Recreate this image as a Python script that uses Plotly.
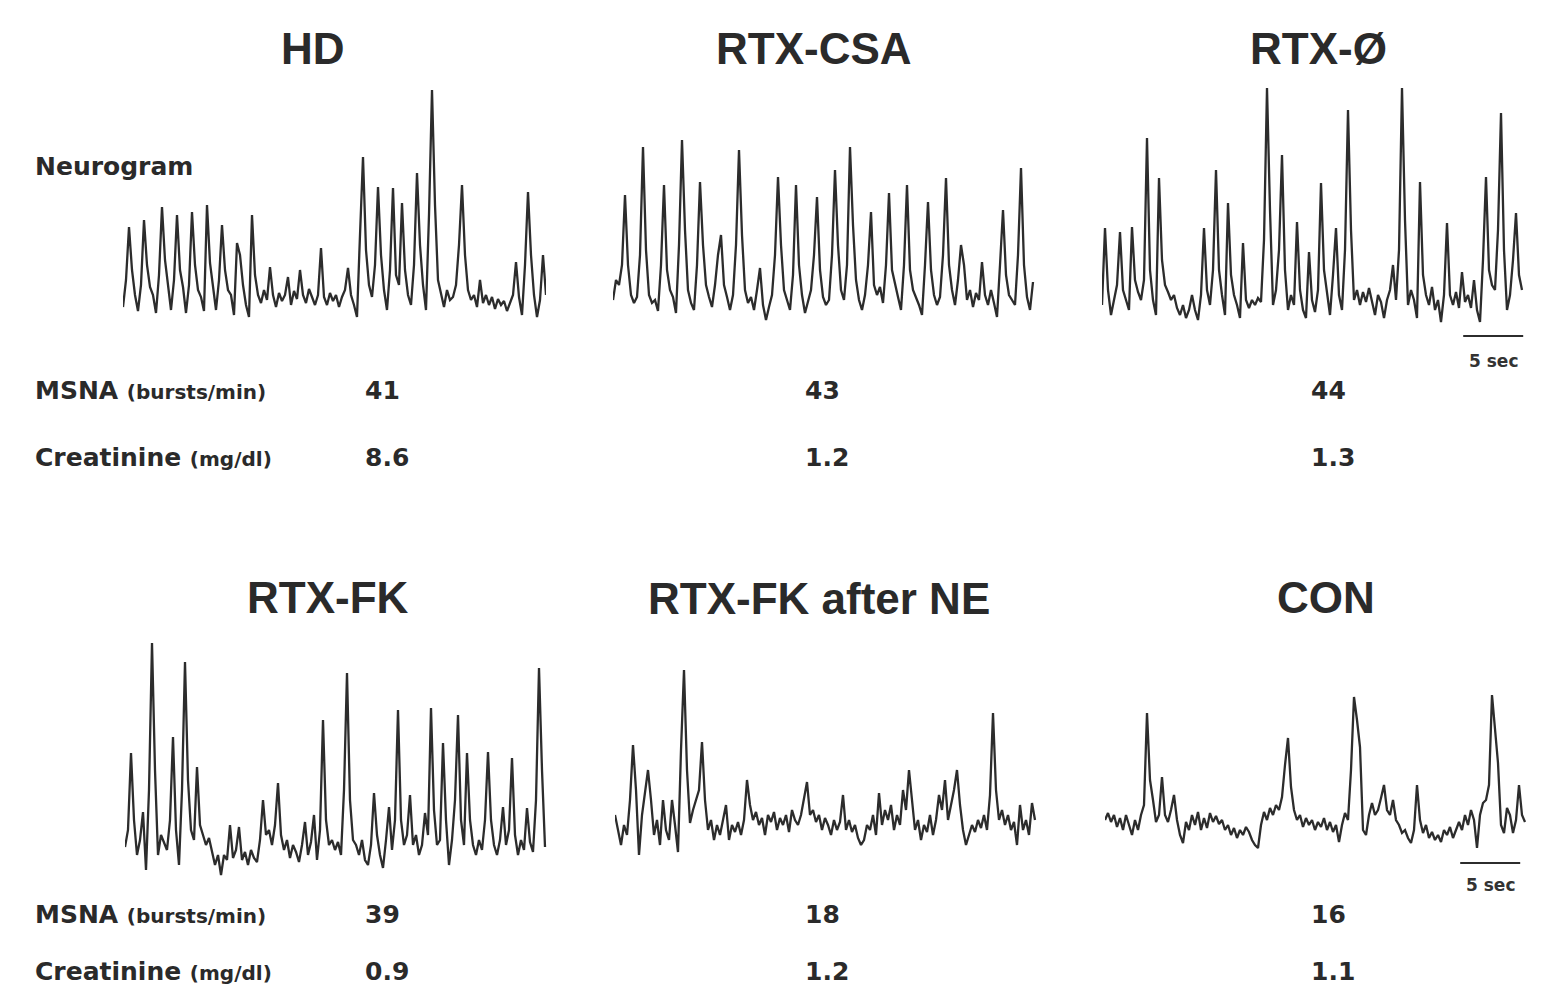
import plotly.graph_objects as go

# ---------------- data ----------------
DT = 0.25  # seconds between neurogram samples

titles = ["HD", "RTX-CSA", "RTX-Ø", "RTX-FK", "RTX-FK after NE", "CON"]
msna_values = ["41", "43", "44", "39", "18", "16"]
creatinine_values = ["8.6", "1.2", "1.3", "0.9", "1.2", "1.1"]

# neurogram amplitude (arbitrary units), one sample every DT seconds
hd = [18, 45, 98, 55, 30, 14, 40, 105, 60, 38,
      30, 12, 50, 118, 65, 40, 15, 45, 110, 55,
      38, 12, 40, 113, 60, 35, 28, 14, 120, 62,
      38, 15, 45, 100, 55, 35, 30, 10, 82, 70,
      40, 20, 8, 110, 50, 30, 22, 35, 25, 58,
      30, 18, 32, 24, 30, 48, 20, 34, 26, 55,
      30, 22, 36, 28, 20, 30, 77, 28, 20, 32,
      24, 30, 18, 28, 35, 57, 30, 20, 8, 90,
      168, 75, 40, 28, 60, 138, 70, 35, 15, 55,
      137, 50, 40, 122, 55, 30, 20, 60, 152, 80,
      40, 15, 110, 235, 120, 45, 30, 18, 35, 25,
      28, 40, 80, 140, 70, 35, 25, 30, 18, 45,
      22, 30, 20, 28, 16, 26, 20, 24, 14, 22,
      30, 63, 28, 10, 60, 133, 70, 30, 8, 25,
      70, 30]

rtx_csa = [25, 45, 40, 60, 130, 60, 30, 22, 28, 70,
           178, 75, 30, 22, 25, 14, 60, 140, 55, 35,
           28, 12, 80, 185, 95, 35, 22, 15, 60, 143,
           80, 40, 28, 18, 40, 70, 90, 40, 28, 15,
           30, 80, 175, 90, 35, 22, 28, 15, 35, 57,
           20, 5, 18, 30, 70, 148, 80, 35, 25, 15,
           50, 140, 60, 30, 12, 25, 35, 70, 128, 55,
           28, 20, 25, 70, 155, 80, 35, 25, 60, 178,
           100, 45, 25, 15, 30, 60, 113, 40, 30, 38,
           22, 60, 132, 55, 40, 28, 15, 60, 140, 55,
           35, 28, 20, 10, 60, 123, 55, 30, 20, 28,
           70, 147, 60, 35, 20, 45, 80, 60, 25, 35,
           18, 32, 25, 63, 30, 20, 35, 22, 8, 60,
           115, 50, 30, 25, 20, 70, 157, 60, 28, 15,
           43]

rtx_none = [25, 102, 40, 15, 30, 45, 98, 40, 30, 20,
            103, 50, 38, 30, 50, 192, 60, 30, 15, 152,
            70, 45, 38, 30, 35, 22, 15, 25, 12, 20,
            35, 20, 10, 35, 102, 40, 25, 60, 160, 60,
            35, 15, 127, 55, 35, 25, 12, 87, 30, 22,
            30, 25, 32, 28, 90, 242, 120, 25, 40, 80,
            175, 60, 20, 35, 25, 108, 40, 20, 12, 78,
            30, 18, 40, 147, 60, 38, 15, 55, 102, 35,
            20, 80, 220, 100, 30, 40, 25, 38, 28, 42,
            30, 15, 35, 28, 12, 30, 40, 65, 30, 80,
            242, 110, 25, 40, 30, 12, 148, 55, 35, 25,
            43, 20, 30, 8, 35, 107, 35, 25, 38, 22,
            58, 28, 35, 22, 50, 20, 8, 70, 153, 60,
            45, 40, 100, 217, 80, 20, 35, 70, 117, 55,
            40]

rtx_fk = [33, 50, 127, 60, 25, 40, 68, 10, 90, 237,
          110, 25, 45, 38, 30, 60, 143, 50, 15, 90,
          218, 100, 50, 40, 113, 55, 45, 35, 42, 28,
          15, 25, 5, 25, 20, 55, 22, 30, 53, 20,
          28, 15, 30, 22, 18, 40, 80, 45, 50, 35,
          55, 97, 45, 30, 40, 22, 35, 28, 18, 35,
          58, 25, 38, 65, 20, 50, 160, 60, 35, 40,
          30, 38, 25, 90, 207, 80, 40, 35, 25, 40,
          20, 15, 35, 87, 45, 25, 12, 40, 73, 30,
          60, 170, 60, 35, 45, 85, 35, 45, 25, 35,
          67, 45, 172, 70, 35, 40, 137, 60, 15, 40,
          80, 165, 60, 35, 127, 60, 35, 25, 40, 30,
          60, 128, 60, 35, 25, 40, 73, 35, 50, 122,
          45, 25, 40, 30, 72, 38, 28, 80, 212, 110,
          33]

rtx_fk_ne = [45, 30, 15, 35, 25, 60, 115, 70, 5, 45,
             70, 90, 60, 25, 40, 15, 60, 30, 20, 60,
             35, 8, 110, 190, 90, 37, 50, 60, 70, 118,
             60, 30, 40, 20, 35, 25, 40, 55, 20, 35,
             28, 38, 25, 40, 80, 55, 40, 48, 35, 42,
             25, 45, 38, 48, 30, 42, 35, 45, 28, 50,
             40, 35, 45, 60, 78, 45, 50, 38, 45, 30,
             42, 35, 25, 40, 30, 38, 65, 30, 40, 28,
             35, 22, 15, 20, 35, 30, 45, 25, 67, 35,
             50, 40, 55, 30, 45, 35, 70, 50, 90, 60,
             30, 40, 20, 35, 28, 45, 25, 40, 65, 50,
             80, 40, 55, 70, 90, 55, 30, 15, 25, 35,
             28, 40, 32, 45, 30, 65, 147, 70, 40, 50,
             35, 45, 30, 38, 15, 55, 30, 40, 25, 57,
             40]

con = [40, 47, 38, 45, 33, 42, 30, 45, 35, 25,
       40, 30, 45, 55, 147, 80, 60, 38, 45, 83,
       45, 38, 50, 65, 40, 25, 17, 38, 30, 45,
       35, 48, 30, 42, 32, 47, 38, 44, 36, 40,
       30, 35, 25, 32, 22, 30, 25, 33, 28, 20,
       15, 12, 35, 48, 40, 52, 45, 55, 50, 63,
       95, 122, 73, 50, 40, 45, 33, 42, 35, 40,
       30, 38, 33, 42, 30, 38, 28, 35, 18, 35,
       47, 40, 90, 163, 140, 113, 30, 25, 45, 57,
       45, 50, 62, 75, 50, 45, 60, 40, 35, 27,
       30, 22, 17, 30, 75, 40, 27, 35, 22, 28,
       20, 25, 18, 30, 25, 33, 22, 30, 38, 30,
       45, 35, 50, 40, 12, 45, 57, 60, 75, 165,
       130, 97, 35, 27, 52, 45, 27, 40, 75, 45,
       38]

neurograms = [hd, rtx_csa, rtx_none, rtx_fk, rtx_fk_ne, con]

SCALE_BAR_SEC = 5
scale_bar_panels = [2, 5]           # panels carrying a "5 sec" bar
scale_bar_start = [30.1, 29.6]      # seconds

# ---------------- layout (pixels in the 1554 x 1005 page) ----------------
W, H = 1554, 1005
PX_PER_SEC = 12.0
T_SPAN = 35.25
Y_LO, Y_HI = -40, 250
panel_left = [123, 613, 1102, 125, 615, 1105]
panel_base = [325, 325, 330, 880, 860, 860]
scale_bar_amp = [-6, -3]
scale_label_amp = [-31, -25]

title_x = [313, 814, 1318, 328, 819, 1326]
title_y = [48, 48, 48, 597, 598, 597]
value_x = [363, 803, 1309]
msna_row_y = [390, 914]
creat_row_y = [457, 971]

INK = "#2c2c2c"
TITLE_FONT = dict(family="Liberation Sans, Arial, sans-serif", size=44, color="#2a2a2a")
LABEL_FONT = dict(family="DejaVu Sans, sans-serif", size=25, color="#2a2a2a")

fig = go.Figure()
layout = dict(width=W, height=H, margin=dict(l=0, r=0, t=0, b=0),
              paper_bgcolor="white", plot_bgcolor="white", showlegend=False)

for k, sig in enumerate(neurograms):
    ax = "" if k == 0 else str(k + 1)
    t = [i * DT for i in range(len(sig))]
    fig.add_trace(go.Scatter(x=t, y=sig, mode="lines",
                             line=dict(color=INK, width=2.3),
                             xaxis="x" + ax, yaxis="y" + ax,
                             hoverinfo="skip"))
    L, B = panel_left[k], panel_base[k]
    x0 = L / W
    x1 = (L + T_SPAN * PX_PER_SEC) / W
    y0 = 1 - (B - Y_LO) / H
    y1 = 1 - (B - Y_HI) / H
    layout["xaxis" + ax] = dict(domain=[x0, x1], range=[0, T_SPAN], visible=False,
                                anchor="y" + ax, fixedrange=True)
    layout["yaxis" + ax] = dict(domain=[y0, y1], range=[Y_LO, Y_HI], visible=False,
                                anchor="x" + ax, fixedrange=True)

# scale bars (5 s) drawn on the time axes
for j, k in enumerate(scale_bar_panels):
    ax = str(k + 1)
    s = scale_bar_start[j]
    fig.add_trace(go.Scatter(x=[s, s + SCALE_BAR_SEC], y=[scale_bar_amp[j]] * 2,
                             mode="lines", line=dict(color=INK, width=2.2),
                             xaxis="x" + ax, yaxis="y" + ax, hoverinfo="skip"))
    fig.add_annotation(x=s + SCALE_BAR_SEC / 2, y=scale_label_amp[j],
                       xref="x" + ax, yref="y" + ax, showarrow=False,
                       text="<b>5 sec</b>",
                       font=dict(family="DejaVu Sans, sans-serif", size=17, color="#333"))

fig.update_layout(**layout)

def px(x, y):
    return x / W, 1 - y / H

# titles
for k, ttl in enumerate(titles):
    xx, yy = px(title_x[k], title_y[k])
    fig.add_annotation(x=xx, y=yy, xref="paper", yref="paper", showarrow=False,
                       text="<b>" + ttl + "</b>", font=TITLE_FONT,
                       xanchor="center", yanchor="middle")

# row labels
xx, yy = px(33, 167)
fig.add_annotation(x=xx, y=yy, xref="paper", yref="paper", showarrow=False,
                   text="<b>Neurogram</b>", font=LABEL_FONT,
                   xanchor="left", yanchor="middle")
for r in range(2):
    xx, yy = px(33, msna_row_y[r])
    fig.add_annotation(x=xx, y=yy, xref="paper", yref="paper", showarrow=False,
                       text="<b>MSNA <span style='font-size:20px'>(bursts/min)</span></b>",
                       font=LABEL_FONT, xanchor="left", yanchor="middle")
    xx, yy = px(33, creat_row_y[r])
    fig.add_annotation(x=xx, y=yy, xref="paper", yref="paper", showarrow=False,
                       text="<b>Creatinine <span style='font-size:20px'>(mg/dl)</span></b>",
                       font=LABEL_FONT, xanchor="left", yanchor="middle")
    for c in range(3):
        k = r * 3 + c
        xx, yy = px(value_x[c], msna_row_y[r])
        fig.add_annotation(x=xx, y=yy, xref="paper", yref="paper", showarrow=False,
                           text="<b>" + msna_values[k] + "</b>", font=LABEL_FONT,
                           xanchor="left", yanchor="middle")
        xx, yy = px(value_x[c], creat_row_y[r])
        fig.add_annotation(x=xx, y=yy, xref="paper", yref="paper", showarrow=False,
                           text="<b>" + creatinine_values[k] + "</b>", font=LABEL_FONT,
                           xanchor="left", yanchor="middle")

fig.write_html("out.html", config={"displayModeBar": False},
               post_script="document.body.style.margin='0';document.body.style.overflow='hidden';")
